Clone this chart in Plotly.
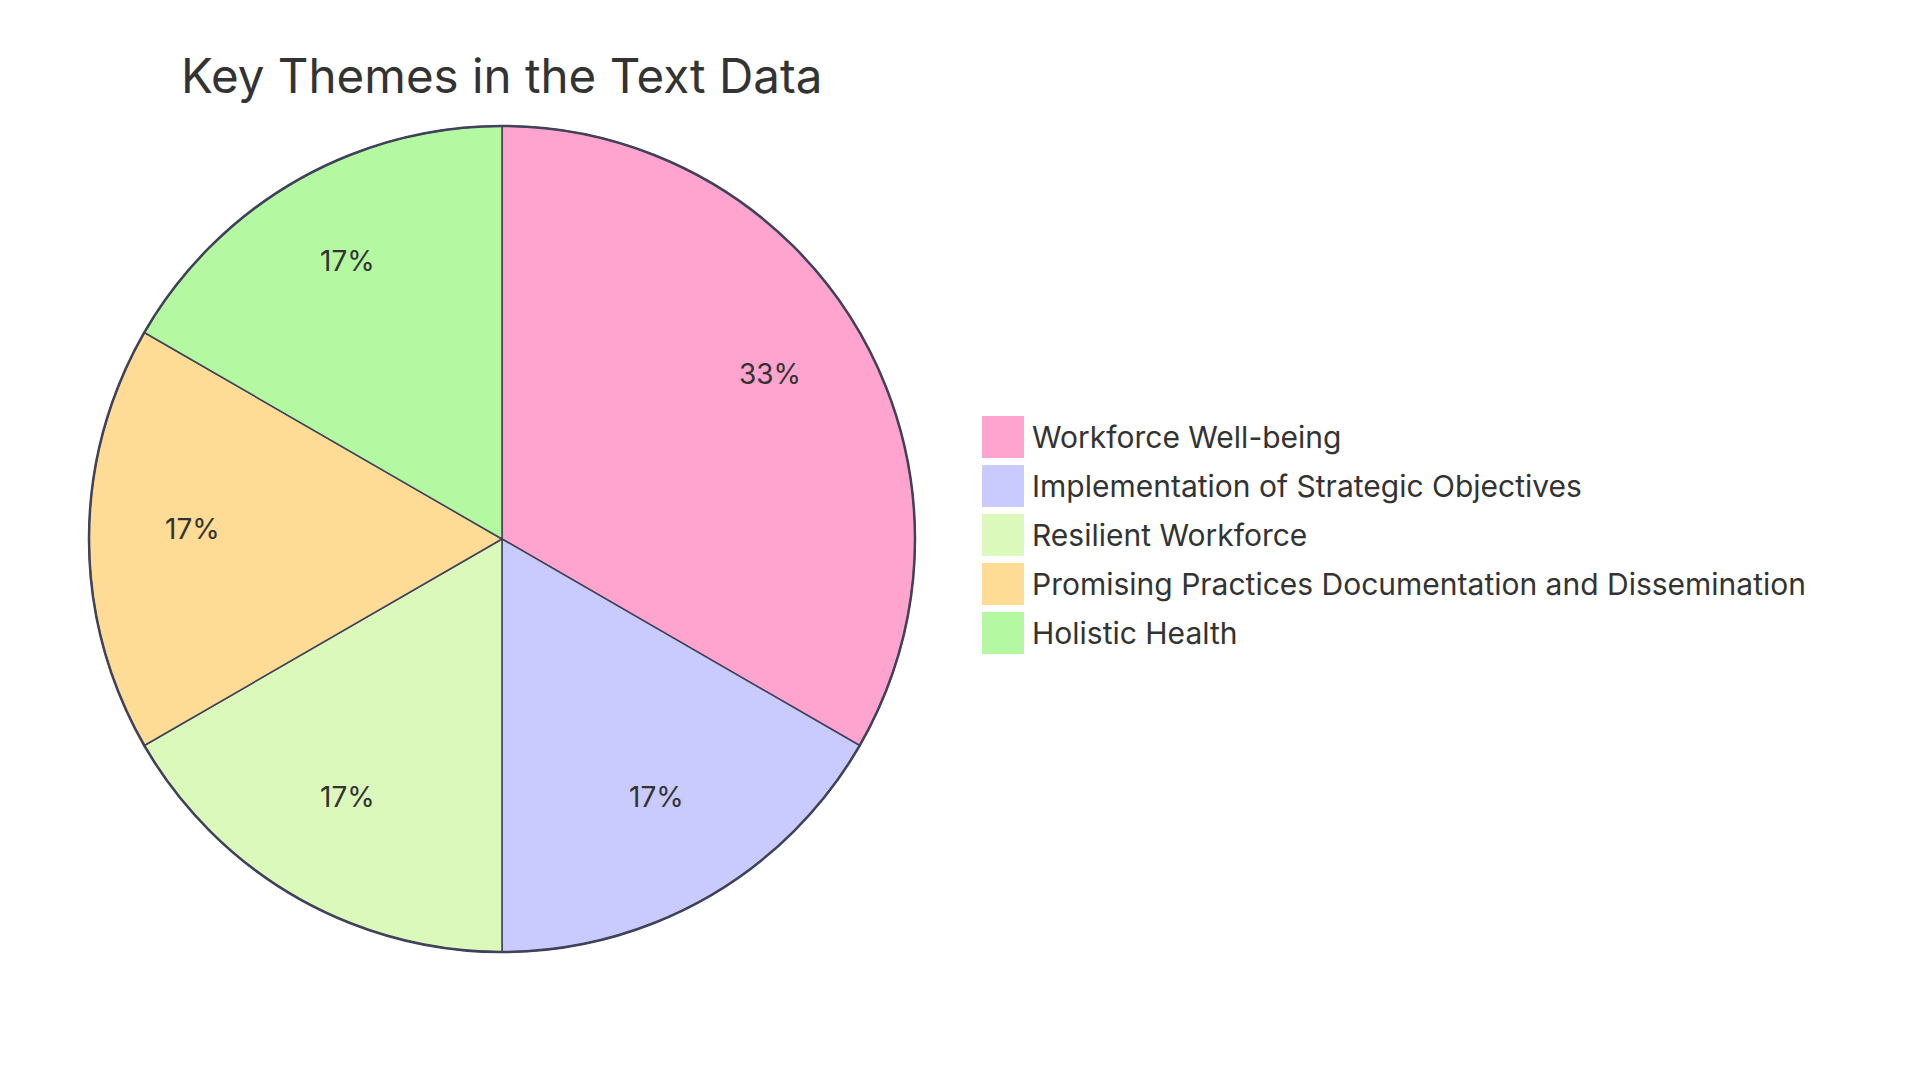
import math
import plotly.graph_objects as go

# ---- data ----
title_text = "Key Themes in the Text Data"
labels = [
    "Workforce Well-being",
    "Implementation of Strategic Objectives",
    "Resilient Workforce",
    "Promising Practices Documentation and Dissemination",
    "Holistic Health",
]
values = [2, 1, 1, 1, 1]
colors = ["#FFA3CF", "#C9CBFF", "#DBF9BA", "#FEDC95", "#B4F8A2"]

# ---- layout constants ----
W, H = 1920, 1080
CX, CY, R = 502, 539, 413           # pie centre / radius in pixels (from top-left)
STROKE = "#40425A"
FONT = "Inter"
TEXT_COLOR = "#333333"
LABEL_DY = -10                      # label baseline offset like mermaid

dom_x = [(CX - R) / W, (CX + R) / W]
dom_y = [(H - CY - R) / H, (H - CY + R) / H]

fig = go.Figure(
    go.Pie(
        labels=labels,
        values=values,
        sort=False,
        direction="clockwise",
        rotation=0,
        marker=dict(colors=colors, line=dict(color=STROKE, width=1.5)),
        textinfo="none",
        hoverinfo="label+percent",
        showlegend=False,
        domain=dict(x=dom_x, y=dom_y),
    )
)

annotations = []
shapes = []

# percentage labels at 0.75 of radius (mermaid style)
total = sum(values)
cum = 0
for v in values:
    mid = (cum + v / 2) / total * 2 * math.pi
    cum += v
    px = CX + 0.75 * R * math.sin(mid)
    py = CY - 0.75 * R * math.cos(mid) + LABEL_DY
    annotations.append(dict(
        x=px / W, y=1 - py / H, xref="paper", yref="paper",
        text=f"{round(v / total * 100)}%", showarrow=False,
        font=dict(family=FONT, size=28, color=TEXT_COLOR),
        xanchor="center", yanchor="middle",
    ))

# outer border
shapes.append(dict(
    type="circle", xref="paper", yref="paper",
    x0=(CX - R) / W, x1=(CX + R) / W,
    y0=1 - (CY + R) / H, y1=1 - (CY - R) / H,
    line=dict(color=STROKE, width=2.5), fillcolor="rgba(0,0,0,0)", layer="above",
))

# legend
LX, LY0, SQ, STEP = 982, 416, 42, 49
for i, (lab, col) in enumerate(zip(labels, colors)):
    top = LY0 + i * STEP
    shapes.append(dict(
        type="rect", xref="paper", yref="paper",
        x0=LX / W, x1=(LX + SQ) / W,
        y0=1 - (top + SQ) / H, y1=1 - top / H,
        line=dict(width=0), fillcolor=col,
    ))
    annotations.append(dict(
        x=(LX + SQ + 6) / W, y=1 - (top + SQ / 2) / H, xref="paper", yref="paper",
        text=lab, showarrow=False,
        font=dict(family=FONT, size=30, color=TEXT_COLOR),
        xanchor="left", yanchor="middle",
    ))

fig.update_layout(
    width=W, height=H,
    margin=dict(l=0, r=0, t=0, b=0),
    paper_bgcolor="white", plot_bgcolor="white",
    title=dict(
        text=title_text, x=181 / W, xanchor="left",
        y=1 - 76 / H, yanchor="middle",
        font=dict(family=FONT, size=47.5, color=TEXT_COLOR),
    ),
    annotations=annotations,
    shapes=shapes,
)

fig.write_html("out.html")
